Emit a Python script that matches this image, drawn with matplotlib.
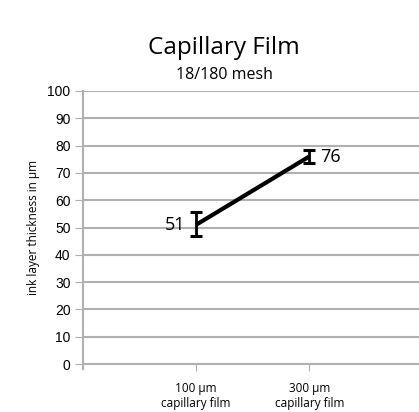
import matplotlib
matplotlib.use("Agg")
import matplotlib.pyplot as plt

# data
categories = ["100 µm\ncapillary film", "300 µm\ncapillary film"]
thickness = [51, 76]
err_low = [4, 2.5]
err_high = [4.5, 2.5]

fig = plt.figure(figsize=(4.19, 4.12), dpi=100)
ax = fig.add_axes([83 / 419, 1 - 364 / 412, 1 - 83 / 419, 273 / 412])

xs = [1, 2]
ax.plot(xs, thickness, color="black", lw=3, zorder=3, solid_capstyle="butt")
ax.errorbar(xs, thickness, yerr=[err_low, err_high], fmt="none", ecolor="black",
            elinewidth=2, capsize=4, capthick=2.2, zorder=4)

ax.text(xs[0] - 0.1, thickness[0], str(thickness[0]), ha="right", va="center",
        fontsize=13, family="Open Sans")
ax.text(xs[1] + 0.1, thickness[1], str(thickness[1]), ha="left", va="center",
        fontsize=13, family="Open Sans")

ax.set_ylim(0, 100)
ax.set_xlim(0, 2.97)
ax.set_yticks(range(0, 101, 10))
ax.set_xticks(xs)
ax.set_xticklabels(categories, family="Open Sans", fontsize=8.5)
ax.tick_params(axis="y", labelsize=10, length=6, color="#b0b0b0", pad=3)
ax.tick_params(axis="x", length=5, color="#b0b0b0", pad=8)
for lbl in ax.get_yticklabels():
    lbl.set_family("Liberation Sans")

ax.grid(axis="y", color="#b0b0b0", lw=1.5)
ax.set_axisbelow(True)
for s in ["top", "right"]:
    ax.spines[s].set_visible(False)
ax.spines["left"].set_color("#b0b0b0")
ax.spines["left"].set_linewidth(1.5)
ax.spines["left"].set_bounds(-2, 100)
ax.spines["bottom"].set_color("#b0b0b0")
ax.spines["bottom"].set_linewidth(1.5)
ax.set_ylabel("ink layer thickness in µm", family="Open Sans", fontsize=8.5, labelpad=5)

fig.text(0.535, 1 - 48 / 412, "Capillary Film", ha="center", va="center",
         fontsize=17.5, family="Open Sans")
fig.text(0.535, 1 - 75 / 412, "18/180 mesh", ha="center", va="center",
         fontsize=11.5, family="Open Sans")

fig.savefig("out.png", dpi=100)
